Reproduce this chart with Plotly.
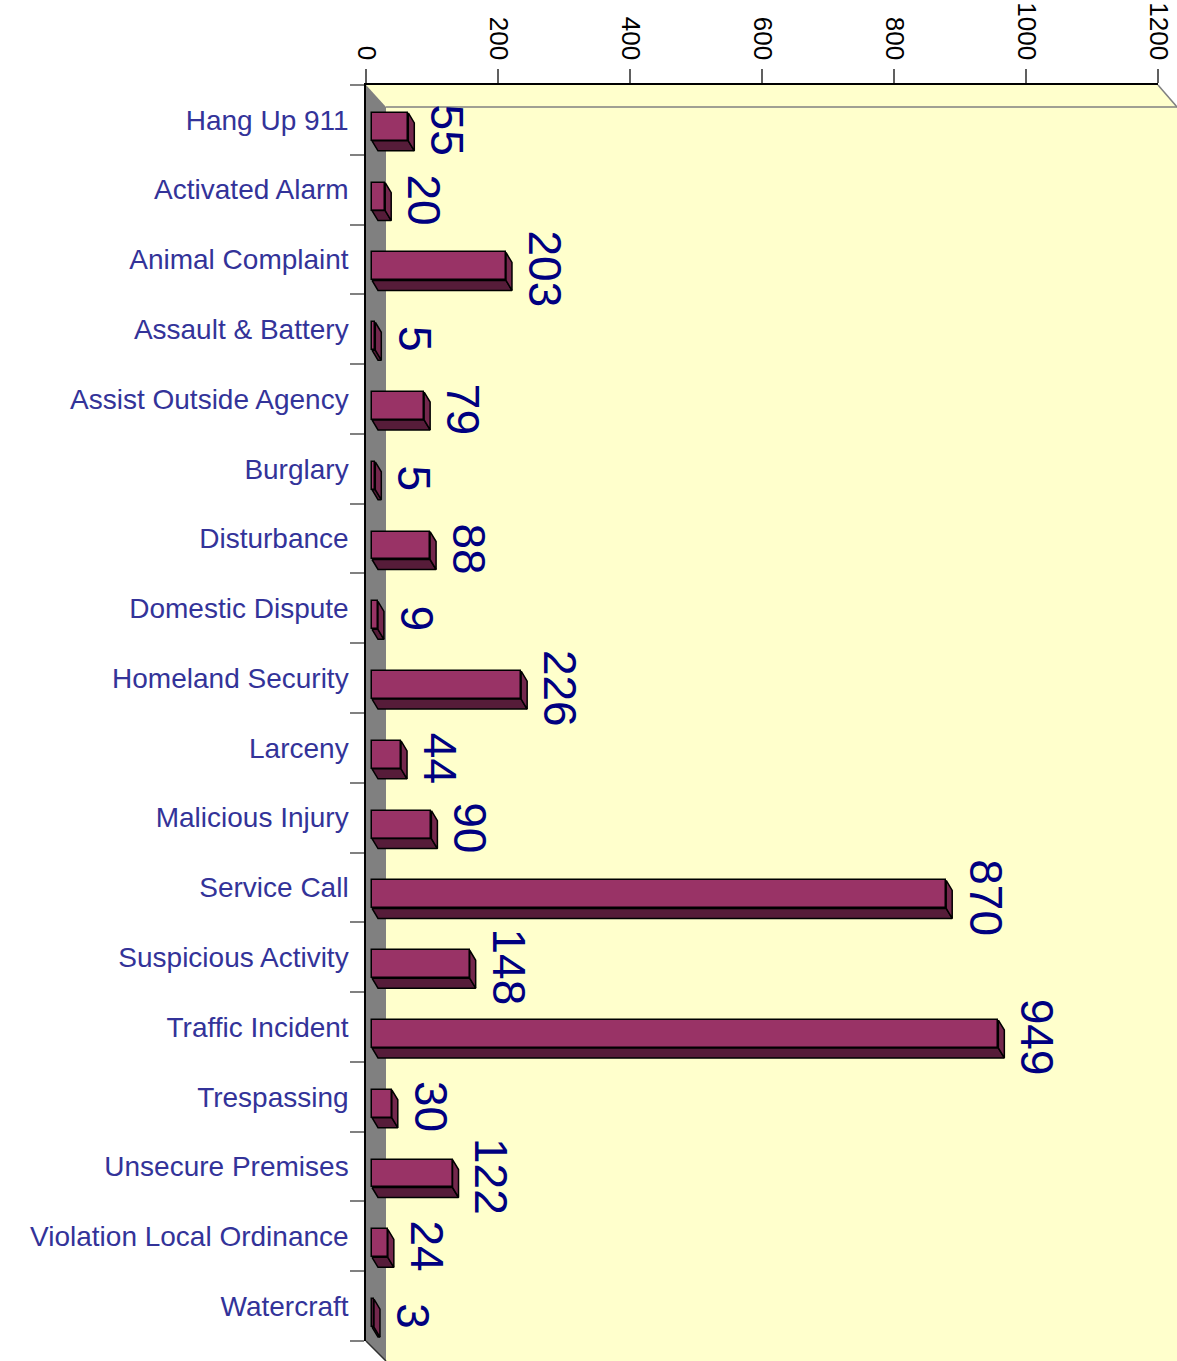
import plotly.graph_objects as go

# ---------------- data ----------------
categories = ["Hang Up 911", "Activated Alarm", "Animal Complaint", "Assault & Battery",
              "Assist Outside Agency", "Burglary", "Disturbance", "Domestic Dispute",
              "Homeland Security", "Larceny", "Malicious Injury", "Service Call",
              "Suspicious Activity", "Traffic Incident", "Trespassing", "Unsecure Premises",
              "Violation Local Ordinance", "Watercraft"]
values = [55, 20, 203, 5, 79, 5, 88, 9, 226, 44, 90, 870, 148, 949, 30, 122, 24, 3]
x_ticks = [0, 200, 400, 600, 800, 1000, 1200]

# ---------------- geometry / style ----------------
W, H = 1177, 1361
L, R, T, B = 366, 1158, 85, 1341
XMAX = 1200
pw, ph = R - L, B - T
n = len(categories)
ux = XMAX / pw          # data units per pixel (x)
uy = n / ph             # category units per pixel (y)

BASE = 6 * ux           # bars sit slightly in front of the wall
FACE_TOP = -0.1
FACE_W = 0.4
DX = 6 * ux
DY = 10 * uy

FRONT = "#993366"
BOTTOM = "#561c39"
SIDE = "#74284d"
WALL = "#808080"
BACK = "#FFFFCC"

pos = list(range(n))

# 3D faces computed from data
bx, by, sx, sy = [], [], [], []
for i, v in zip(pos, values):
    x0, x1 = BASE, BASE + v
    yt = i + FACE_TOP
    yb = yt + FACE_W
    bx += [x0, x1, x1 + DX, x0 + DX, x0, None]
    by += [yb, yb, yb + DY, yb + DY, yb, None]
    sx += [x1, x1 + DX, x1 + DX, x1, x1, None]
    sy += [yt, yt + DY, yb + DY, yb, yt, None]

fig = go.Figure()
fig.add_trace(go.Scatter(x=bx, y=by, mode="lines", fill="toself", fillcolor=BOTTOM,
                         line=dict(color="black", width=1.5), hoverinfo="skip",
                         showlegend=False, cliponaxis=False))
fig.add_trace(go.Scatter(x=sx, y=sy, mode="lines", fill="toself", fillcolor=SIDE,
                         line=dict(color="black", width=1.5), hoverinfo="skip",
                         showlegend=False, cliponaxis=False))
fig.add_trace(go.Bar(y=pos, x=values, base=BASE, orientation="h", width=FACE_W,
                     offset=FACE_TOP, marker=dict(color=FRONT, line=dict(color="black", width=1.5)),
                     showlegend=False, cliponaxis=False))

for i, v in zip(pos, values):
    fig.add_annotation(x=BASE + v, y=i, xref="x", yref="y", text=str(v), showarrow=False,
                       textangle=90, xanchor="left", yanchor="middle", xshift=11, yshift=-10,
                       font=dict(family="Liberation Sans, Arial", size=46, color="#000080"))


def P(x, y):
    return (x - L) / pw, (B - y) / ph


def path(pts):
    s = ""
    for k, (x, y) in enumerate(pts):
        px, py = P(x, y)
        s += ("M" if k == 0 else "L") + f"{px:.5f},{py:.5f} "
    return s + "Z"


shapes = [
    dict(type="path", xref="paper", yref="paper", layer="below", line=dict(width=0),
         fillcolor=BACK,
         path=path([(L, T), (R, T), (W, T + 22), (W, H), (L + 20, H), (L, B)])),
    dict(type="path", xref="paper", yref="paper", layer="below", line=dict(width=0),
         fillcolor=WALL,
         path=path([(L, T), (L + 20, T + 22), (L + 20, H), (L, B)])),
]
lx0, ly0 = P(L + 20, T + 22)
lx1, _ = P(W, T + 22)
shapes.append(dict(type="line", xref="paper", yref="paper", layer="below",
                   x0=lx0, y0=ly0, x1=lx1, y1=ly0, line=dict(color="#808080", width=1.5)))
a0 = P(R, T); a1 = P(W, T + 22)
shapes.append(dict(type="line", xref="paper", yref="paper", layer="below",
                   x0=a0[0], y0=a0[1], x1=a1[0], y1=a1[1], line=dict(color="#808080", width=1.5)))
b0 = P(L, B); b1 = P(L + 20, H)
shapes.append(dict(type="line", xref="paper", yref="paper", layer="above",
                   x0=b0[0], y0=b0[1], x1=b1[0], y1=b1[1], line=dict(color="#303030", width=1.5)))

fig.update_layout(
    width=W, height=H,
    margin=dict(l=L, r=W - R, t=T, b=H - B, pad=0, autoexpand=False),
    paper_bgcolor="white",
    plot_bgcolor="rgba(0,0,0,0)",
    shapes=shapes,
    bargap=0,
    xaxis=dict(side="top", range=[0, XMAX], tickvals=x_ticks, ticktext=[str(t) for t in x_ticks],
               ticks="outside", ticklen=14, tickcolor="#606060", tickwidth=1.5,
               tickangle=90, tickfont=dict(family="Liberation Sans, Arial", size=26, color="black"),
               showline=True, linecolor="black", linewidth=1.5, showgrid=False, zeroline=False,
               automargin=False),
    yaxis=dict(range=[n - 0.5, -0.5], tickvals=pos, ticktext=categories,
               ticks="", ticklabelstandoff=10,
               tickfont=dict(family="Liberation Sans, Arial", size=28, color="#333399"),
               minor=dict(tickvals=[k - 0.5 for k in range(n + 1)], ticks="outside",
                          ticklen=14, tickcolor="#808080", tickwidth=1.5, showgrid=False),
               showline=True, linecolor="black", linewidth=1.5, showgrid=False, zeroline=False,
               automargin=False),
)

fig.write_html("out.html", config={"displayModeBar": False},
               post_script="document.body.style.margin='0';document.body.style.overflow='hidden';")
